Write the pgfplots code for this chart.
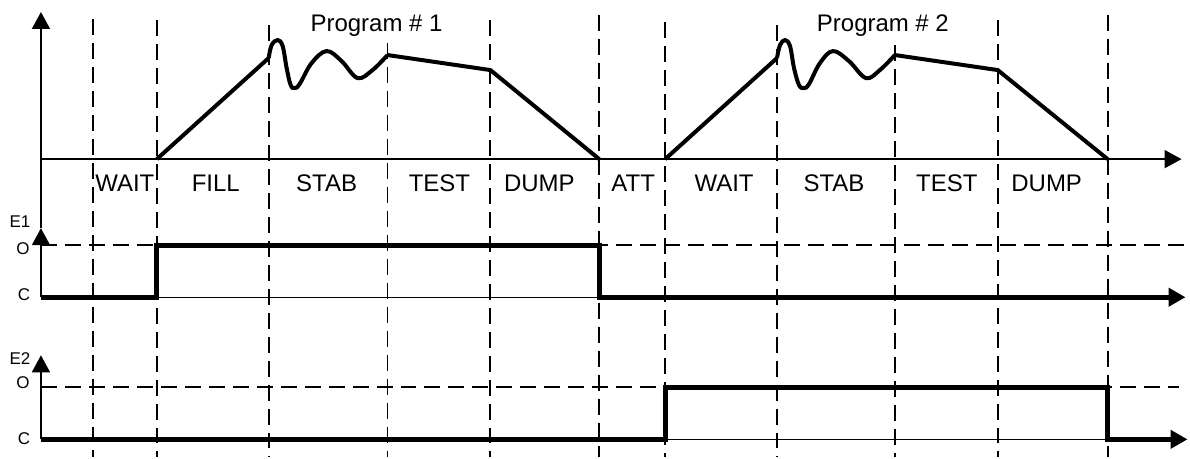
\documentclass[border=0pt]{standalone}
\usepackage{fontspec}
\setmainfont{Liberation Sans}
\usepackage{pgfplots}
\pgfplotsset{compat=1.18}
\usetikzlibrary{arrows.meta}

% all coordinates in pixels of the 1190x457 drawing, y measured downwards
\tikzset{
  grid dash/.style={line width=0.95pt, dash pattern=on 8pt off 4pt},
  tip/.style={-{Triangle[length=8.5pt, width=9pt]}},
  phase/.style={font=\fontsize{12}{14}\selectfont, anchor=base},
  small/.style={font=\fontsize{8.5}{10}\selectfont},
}

\begin{document}
\begin{tikzpicture}
\begin{axis}[
  scale only axis,
  width=595pt, height=228.5pt,
  xmin=0, xmax=1190, ymin=0, ymax=457,
  y dir=reverse,
  hide axis,
  clip=false,
  unbounded coords=jump,
]
\path (axis cs:0,0) rectangle (axis cs:1190,457);

% phase boundaries
\addplot[black, grid dash] coordinates {
  (93,19) (93,457) (nan,nan)
  (157,20) (157,457) (nan,nan)
  (269,25) (269,457) (nan,nan)
  (388,43) (388,457) (nan,nan)
  (491,20) (491,457) (nan,nan)
  (600,15) (600,457) (nan,nan)
  (666,22) (666,457) (nan,nan)
  (778,25) (778,457) (nan,nan)
  (896,45) (896,457) (nan,nan)
  (999,20) (999,457) (nan,nan)
  (1109,15) (1109,457)
};

% open levels
\addplot[black, grid dash] coordinates {(41,245) (1190,245)};
\addplot[black, grid dash] coordinates {(41,387) (1180,387)};

% pressure axes
\addplot[black, line width=1pt, tip] coordinates {(41,228) (41,12)};
\addplot[black, line width=1pt, tip] coordinates {(40,159) (1183,159)};

% program 1
\addplot[black, line width=2pt, line join=round] coordinates {(157,159) (269,58)};
\addplot[black, line width=2pt, smooth, tension=0.6] coordinates {
  (269,58) (272,45) (278,40) (283,46) (287,68) (291,85) (295,88) (300,84)
  (312,63) (327,51) (342,61) (358,78) (373,70) (388,55)};
\addplot[black, line width=2pt, line join=round] coordinates {(388,55) (491,70) (600,159)};

% program 2
\addplot[black, line width=2pt, line join=round] coordinates {(666,159) (778,58)};
\addplot[black, line width=2pt, smooth, tension=0.6] coordinates {
  (778,58) (781,45) (786,40) (791,46) (795,68) (800,85) (805,88) (810,84)
  (821,63) (834,51) (850,61) (867,78) (881,70) (896,55)};
\addplot[black, line width=2pt, line join=round] coordinates {(896,55) (999,70) (1109,159)};

% E1
\addplot[black, line width=0.7pt, tip] coordinates {(41,297) (41,228)};
\addplot[black, line width=0.7pt] coordinates {(157,297) (600,297)};
\addplot[black, line width=2.5pt, tip] coordinates {
  (41,297) (157,297) (157,245) (600,245) (600,297) (1187,297)};

% E2
\addplot[black, line width=0.7pt, tip] coordinates {(41,439) (41,355)};
\addplot[black, line width=0.7pt] coordinates {(666,439) (1109,439)};
\addplot[black, line width=2.5pt, tip] coordinates {
  (41,439) (666,439) (666,387) (1109,387) (1109,439) (1189,439)};

% texts
\node[phase] at (axis cs:377,31.5) {Program \# 1};
\node[phase] at (axis cs:884,31.5) {Program \# 2};
\node[phase] at (axis cs:125,191.5) {WAIT};
\node[phase] at (axis cs:216,191.5) {FILL};
\node[phase] at (axis cs:327,191.5) {STAB};
\node[phase] at (axis cs:440,191.5) {TEST};
\node[phase] at (axis cs:540,191.5) {DUMP};
\node[phase] at (axis cs:634,191.5) {ATT};
\node[phase] at (axis cs:725,191.5) {WAIT};
\node[phase] at (axis cs:835,191.5) {STAB};
\node[phase] at (axis cs:948,191.5) {TEST};
\node[phase] at (axis cs:1048,191.5) {DUMP};

\node[small] at (axis cs:20,221.5) {E1};
\node[small] at (axis cs:23,248.5) {O};
\node[small] at (axis cs:24,294) {C};
\node[small] at (axis cs:20,358) {E2};
\node[small] at (axis cs:23,382.5) {O};
\node[small] at (axis cs:24,438) {C};
\end{axis}
\end{tikzpicture}
\end{document}
